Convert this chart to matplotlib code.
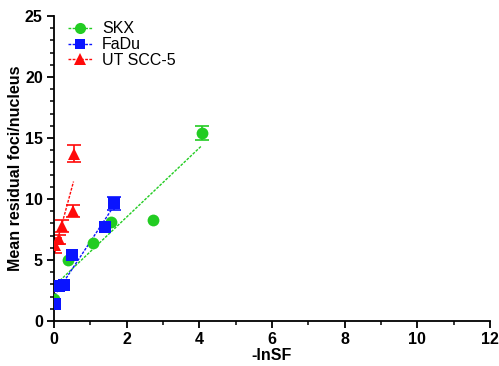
import numpy as np
import matplotlib
matplotlib.use('Agg')
import matplotlib.pyplot as plt
from matplotlib.ticker import MultipleLocator

plt.rcParams['font.family'] = ['Liberation Sans', 'DejaVu Sans']

# datos
skx_x = [0.0, 0.39, 1.08, 1.57, 2.74, 4.07]
skx_y = [1.8, 5.0, 6.4, 8.1, 8.3, 15.4]
skx_err = [0.15, 0.15, 0.15, 0.15, 0.15, 0.55]

fadu_x = [0.02, 0.14, 0.28, 0.51, 1.40, 1.66]
fadu_y = [1.4, 2.85, 2.95, 5.45, 7.7, 9.65]
fadu_err = [0.15, 0.15, 0.15, 0.15, 0.15, 0.55]

utscc_x = [0.02, 0.14, 0.22, 0.52, 0.54]
utscc_y = [6.2, 6.7, 7.8, 9.0, 13.7]
utscc_err = [0.6, 0.35, 0.5, 0.5, 0.7]

series = [
    ('SKX', skx_x, skx_y, skx_err, '#22cc22', 'o', 8.5),
    ('FaDu', fadu_x, fadu_y, fadu_err, '#0a14ff', 's', 8),
    ('UT SCC-5', utscc_x, utscc_y, utscc_err, '#ff0a0a', '^', 8.5),
]

fig = plt.figure(figsize=(4.99, 3.66), dpi=100)
ax = fig.add_axes([0.108, 0.123, 0.874, 0.833])

for name, x, y, err, color, mk, ms in series:
    x = np.array(x)
    y = np.array(y)
    err = np.array(err)
    ax.plot(x, y, mk, color=color, ms=ms, mew=0, zorder=10)
    # las barras pequenas quedan tapadas por el marcador
    big = err >= 0.3
    ax.errorbar(x[big], y[big], yerr=err[big], fmt='none', ecolor=color,
                capsize=5, elinewidth=1.2, capthick=1.2, zorder=2.5)
    # ajuste lineal
    m, b = np.polyfit(x, y, 1)
    xx = np.array([x.min(), x.max()])
    ax.plot(xx, m * xx + b, ls=(0, (2, 1)), color=color, lw=1, zorder=2)
    ax.plot([], [], mk, ls=(0, (2, 1)), color=color, ms=ms - 0.5, mew=0, lw=1,
            label=name)

ax.set_xlim(0, 12)
ax.set_ylim(0, 25)
ax.xaxis.set_major_locator(MultipleLocator(2))
ax.xaxis.set_minor_locator(MultipleLocator(1))
ax.yaxis.set_major_locator(MultipleLocator(5))
ax.yaxis.set_minor_locator(MultipleLocator(1))
ax.spines['top'].set_visible(False)
ax.spines['right'].set_visible(False)
ax.spines['left'].set_linewidth(1.3)
ax.spines['bottom'].set_linewidth(1.3)
ax.tick_params(which='major', length=5, width=1.3, labelsize=11.5, pad=3)
ax.tick_params(which='minor', length=3, width=1.1)
for lab in ax.get_xticklabels() + ax.get_yticklabels():
    lab.set_fontweight('bold')

ax.set_xlabel('-lnSF', fontsize=11.5, fontweight='bold', labelpad=1)
ax.set_ylabel('Mean residual foci/nucleus', fontsize=11.5, fontweight='bold',
              labelpad=1)

ax.legend(loc='upper left', bbox_to_anchor=(0.0, 1.03), frameon=False,
          fontsize=11.5, handlelength=1.5, handletextpad=0.6,
          labelspacing=0.05, borderaxespad=0.5)

plt.savefig('out.png', dpi=100)
